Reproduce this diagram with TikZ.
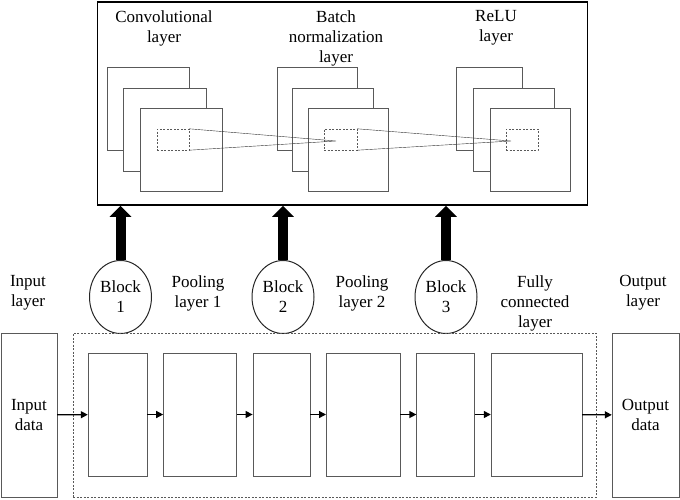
\documentclass[tikz,border=0pt]{standalone}
\usepackage{fontspec}
\setmainfont{Liberation Serif}
\usetikzlibrary{positioning}
\usetikzlibrary{arrows.meta}
\usetikzlibrary{shapes.geometric}
\tikzset{x=1pt, y=-1pt, % Pixel-like units, y grows downwards
      node distance=16pt, % Gap between the boxes of the bottom row
      every node/.style={font=\fontsize{17}{20}\selectfont, align=center},
      fmap/.style={ % Feature map square
      draw=black!65, fill=white, minimum width=80pt,
      minimum height=83pt, inner sep=0pt},
      patch/.style={ % Dashed receptive field
      draw=black!65, dash pattern=on 2pt off 1.5pt,
      minimum width=32pt, minimum height=21pt, inner sep=0pt},
      layerbox/.style={draw=black!65, minimum height=123pt, inner sep=0pt},
      iobox/.style={draw=black!65, minimum height=164pt, inner sep=0pt},
      block/.style={ellipse, draw=black!85, line width=1pt,
      minimum width=62pt, minimum height=73pt, inner sep=0pt},
      flow/.style={draw, line width=1.3pt, -{Triangle[width=7pt,length=7pt]}},
      bigarrow/.style={draw, line width=10pt, -{Triangle[width=21pt,length=11pt]}}}

\begin{document}
\begin{tikzpicture}
      \useasboundingbox (0,0) rectangle (680,499);
      % block detail
      \node[draw, line width=1.5pt, minimum width=490pt, minimum height=203pt, inner sep=0pt] (top) at (342.5,103.5) {};
      \node (convtxt) at (164,28) {Convolutional\\layer};
      \node (bntxt) at (336,38) {Batch\\normalization\\layer};
      \node (relutxt) at (496,28) {ReLU\\layer};
      \node[fmap, minimum width=82pt] (conv1) at (148,108.5) {};
      \node[fmap, minimum width=83pt] (conv2) at (164.5,129.5) {};
      \node[fmap, minimum width=82pt] (conv3) at (181,150) {};
      \node[fmap] (bn1) at (317,108.5) {};
      \node[fmap, minimum width=81pt] (bn2) at (332.5,129.5) {};
      \node[fmap] (bn3) at (348,150) {};
      \node[fmap, minimum width=66pt] (relu1) at (489,108.5) {};
      \node[fmap, minimum width=81pt] (relu2) at (513.5,129.5) {};
      \node[fmap] (relu3) at (530,150) {};
      \node[patch] (convp) at (173,139.5) {};
      \node[patch, minimum width=33pt] (bnp) at (340.5,139.5) {};
      \node[patch] (relup) at (522,139.5) {};
      \coordinate (bnf) at (336,141);
      \coordinate (reluf) at (511,141);
      \draw[black!80] (convp.north east) -- (bnf) -- (convp.south east);
      \draw[black!80] (bnp.north east) -- (reluf) -- (bnp.south east);
      % blocks
      \node[block] (blk1) at (120.5,297) {Block\\1};
      \node[block] (blk2) at (283,297) {Block\\2};
      \node[block] (blk3) at (446,297) {Block\\3};
      \draw[bigarrow] (blk1.north) -- (blk1.north |- top.south);
      \draw[bigarrow] (blk2.north) -- (blk2.north |- top.south);
      \draw[bigarrow] (blk3.north) -- (blk3.north |- top.south);
      \node (intxt) at (28,293) {Input\\layer};
      \node (pool1txt) at (198,293) {Pooling\\layer 1};
      \node (pool2txt) at (362,293) {Pooling\\layer 2};
      \node (fctxt) at (535,303) {Fully\\connected\\layer};
      \node (outtxt) at (643,293) {Output\\layer};
      % network
      \node[draw=black!65, dash pattern=on 2pt off 1.5pt, minimum width=523pt, minimum height=164pt, inner sep=0pt] (net) at (334.5,415) {};
      \node[iobox, minimum width=56pt] (inp) at (29,415) {Input\\data};
      \node[iobox, minimum width=67pt] (outp) at (645.5,415) {Output\\data};
      \node[layerbox, minimum width=59pt] (b1) at (117.5,414.5) {};
      \node[layerbox, minimum width=73pt, right=of b1] (b2) {};
      \node[layerbox, minimum width=57pt, right=of b2] (b3) {};
      \node[layerbox, minimum width=74pt, right=of b3] (b4) {};
      \node[layerbox, minimum width=58pt, right=of b4] (b5) {};
      \node[layerbox, minimum width=91pt, right=of b5] (b6) {};
      \draw[flow] (inp) -- (b1);
      \foreach \a/\b in {b1/b2, b2/b3, b3/b4, b4/b5, b5/b6}
            \draw[flow] (\a) -- (\b);
      \draw[flow] (b6) -- (outp);
\end{tikzpicture}
\end{document}
